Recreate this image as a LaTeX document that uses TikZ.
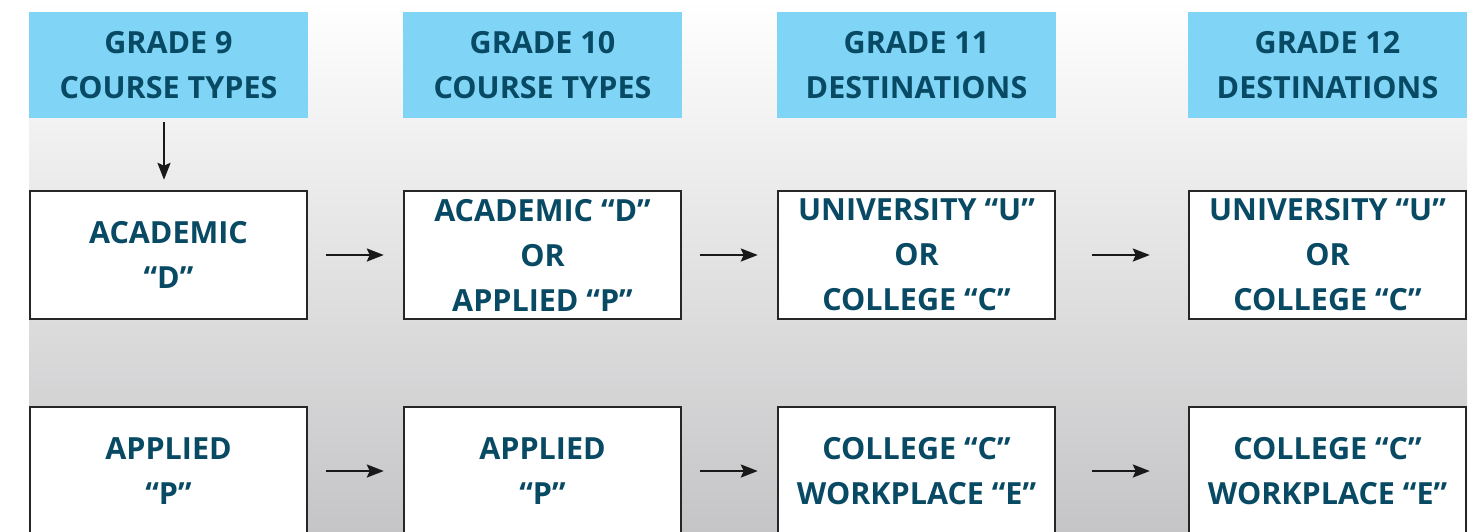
\documentclass[tikz,border=0pt]{standalone}
\usepackage{fontspec}
\setmainfont{Open Sans}
\usetikzlibrary{arrows.meta}

\definecolor{headblue}{RGB}{128,212,246}
\definecolor{inkteal}{RGB}{8,74,100}
\definecolor{bgtop}{RGB}{255,255,255}
\definecolor{bgbottom}{RGB}{196,196,198}

\tikzset{
  label text/.style={text=inkteal, font=\bfseries\fontsize{30.5}{45}\selectfont, align=center},
  header/.style={label text, fill=headblue, minimum width=279pt, minimum height=106pt, inner sep=0pt},
  course/.style={label text, draw=black!85, line width=2.4pt, fill=white, minimum width=277pt, minimum height=128pt, inner sep=0pt},
  flow/.style={->, line width=2.4pt, black!90}
}

\begin{document}
\begin{tikzpicture}[x=1pt, y=-1pt, >={Stealth[length=17pt,width=13pt,inset=3pt]}]
\useasboundingbox (0,0) rectangle (1483,531);
\clip (0,0) rectangle (1483,531);

% Background
\shade[top color=bgtop, bottom color=bgbottom] (29,0) rectangle (1467,540);

% Headers
\path (168.5,65)  node[header] (Head9)  {GRADE 9\\COURSE TYPES}
      (542.5,65)  node[header] (Head10) {GRADE 10\\COURSE TYPES}
      (916.5,65)  node[header] (Head11) {GRADE 11\\DESTINATIONS}
      (1327.5,65) node[header] (Head12) {GRADE 12\\DESTINATIONS};

% Upper row
\path (168.5,255)  node[course] (AcadNine)  {ACADEMIC\\“D”}
      (542.5,255)  node[course] (AcadTen)   {ACADEMIC “D”\\OR\\APPLIED “P”}
      (916.5,255)  node[course] (UnivEleven) {UNIVERSITY “U”\\OR\\COLLEGE “C”}
      (1327.5,255) node[course] (UnivTwelve) {UNIVERSITY “U”\\OR\\COLLEGE “C”};

% Lower row
\path (168.5,471)  node[course] (ApplNine)  {APPLIED\\“P”}
      (542.5,471)  node[course] (ApplTen)   {APPLIED\\“P”}
      (916.5,471)  node[course] (CollEleven) {COLLEGE “C”\\WORKPLACE “E”}
      (1327.5,471) node[course] (CollTwelve) {COLLEGE “C”\\WORKPLACE “E”};

% Arrows
\draw[flow, shorten <=4pt, shorten >=10pt] (Head9.south-|164,0) -- (AcadNine.north-|164,0);

\draw[flow, shorten <=18pt, shorten >=19pt] (AcadNine) -- (AcadTen);
\draw[flow, shorten <=18pt, shorten >=19pt] (AcadTen) -- (UnivEleven);
\draw[flow, shorten <=36pt, shorten >=38pt] (UnivEleven) -- (UnivTwelve);

\draw[flow, shorten <=18pt, shorten >=19pt] (ApplNine) -- (ApplTen);
\draw[flow, shorten <=18pt, shorten >=19pt] (ApplTen) -- (CollEleven);
\draw[flow, shorten <=36pt, shorten >=38pt] (CollEleven) -- (CollTwelve);

\end{tikzpicture}
\end{document}
